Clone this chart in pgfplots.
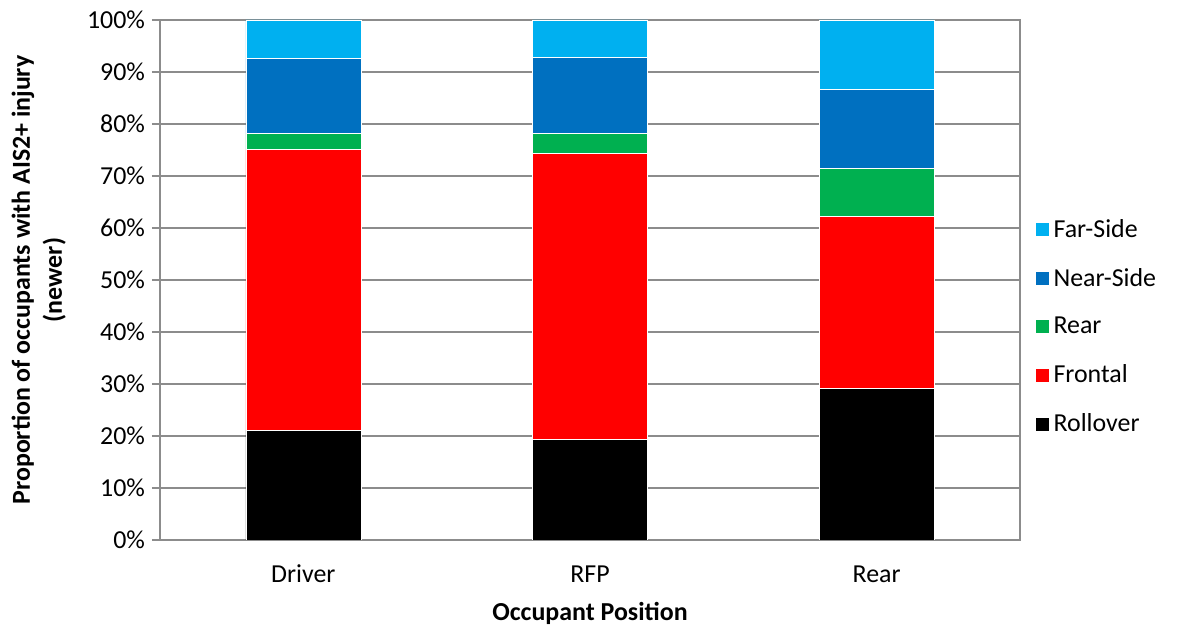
\documentclass[border=0pt]{standalone}
\usepackage{pgfplots}
\pgfplotsset{compat=1.18}
\usepackage{fontspec}
\setmainfont{Carlito}
\definecolor{farside}{HTML}{00B0F0}
\definecolor{nearside}{HTML}{0070C0}
\definecolor{rearc}{HTML}{00B050}
\definecolor{frontal}{HTML}{FF0000}
\definecolor{axgray}{HTML}{8C8C8C}
\begin{document}
\begin{tikzpicture}
\begin{axis}[
  scale only axis, width=430bp, height=260bp,
  ybar stacked, bar width=57.5bp,
  xmin=-0.5, xmax=2.5, ymin=0, ymax=100,
  xtick={0,1,2}, xticklabels={Driver,RFP,Rear},
  x tick style={draw=none},
  extra x ticks={-0.5,0.5,1.5,2.5}, extra x tick labels={},
  extra x tick style={tick style={draw=axgray, line width=0.8pt}, major tick length=5bp, tick align=outside},
  ytick={0,10,...,100}, yticklabel={\pgfmathprintnumber{\tick}\%},
  y tick style={draw=axgray, line width=0.8pt}, major tick length=4bp, tick align=outside,
  tick pos=left,
  ymajorgrids, grid style={axgray, line width=0.8pt},
  axis line style={axgray, line width=0.8pt},
  /pgf/number format/assume math mode=true,
  ticklabel style={font=\fontsize{13}{15}\selectfont},
  xticklabel style={anchor=center, yshift=-13bp},
  xlabel={\textbf{Occupant Position}},
  xlabel style={font=\fontsize{13}{15}\selectfont, at={(axis description cs:0.5,-0.1404)}, anchor=center},
  ylabel={\textbf{Proportion of occupants with AIS2+ injury}\\\textbf{(newer)}},
  ylabel style={font=\fontsize{13}{16}\selectfont, align=center, at={(axis description cs:-0.141,0.5)}, anchor=center},
  legend style={draw=none, at={(1.01,0.41)}, anchor=west, font=\fontsize{13}{15}\selectfont,
    row sep=10bp},
  legend cell align=left, reverse legend,
  legend image code/.code={\fill[#1] (0bp,-3.5bp) rectangle (7bp,3.5bp);},
  every axis plot/.append style={draw=white, line width=0.3pt},
]
\addplot[fill=black] coordinates {(0,21.1) (1,19.3) (2,29.1)};
\addlegendentry{Rollover}
\addplot[fill=frontal] coordinates {(0,54.0) (1,55.0) (2,33.2)};
\addlegendentry{Frontal}
\addplot[fill=rearc] coordinates {(0,3.1) (1,3.9) (2,9.2)};
\addlegendentry{Rear}
\addplot[fill=nearside] coordinates {(0,14.4) (1,14.6) (2,15.2)};
\addlegendentry{Near-Side}
\addplot[fill=farside] coordinates {(0,7.4) (1,7.2) (2,13.3)};
\addlegendentry{Far-Side}
\draw[axgray, line width=0.8pt] (rel axis cs:1,0) -- (rel axis cs:1,1);
\coordinate (bl) at (rel axis cs:0,0);
\coordinate (tr) at (rel axis cs:1,1);
\end{axis}
\pgfresetboundingbox
\path[use as bounding box] ([shift={(-80bp,-44.5bp)}]bl) rectangle ([shift={(90bp,10bp)}]tr);
\end{tikzpicture}
\end{document}
